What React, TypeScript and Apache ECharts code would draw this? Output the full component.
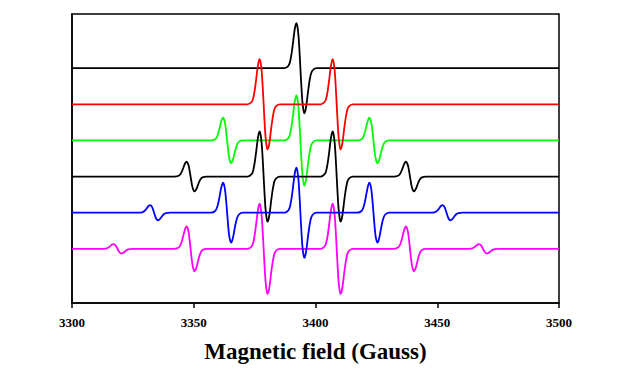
import React, { useEffect, useRef } from "react";
import * as echarts from "echarts";

// Tick labels of the field axis
const X_TICKS = [3300, 3350, 3400, 3450, 3500];

// Spectrum names, colours, baselines (stack offsets)
const SPECTRA = ["n1", "n2", "n3", "n4", "n5", "n6"];
const COLORS = ["#000000", "#ff0000", "#00ff00", "#000000", "#0000ff", "#ff00ff"];
const BASELINES = [6.5, 5.5, 4.5, 3.5, 2.5, 1.5];

// Line centres (Gauss)
const CENTERS_1 = [3393.8];
const CENTERS_2 = [3378.7, 3408.7];
const CENTERS_3 = [3363.7, 3393.8, 3423.8];
const CENTERS_4 = [3348.7, 3378.7, 3408.7, 3438.8];
const CENTERS_5 = [3333.7, 3363.7, 3393.8, 3423.8, 3453.8];
const CENTERS_6 = [3318.7, 3348.7, 3378.7, 3408.7, 3438.8, 3468.8];

// Peak amplitudes of each line (axis units)
const AMPS_1 = [1.25];
const AMPS_2 = [1.25, 1.25];
const AMPS_3 = [0.63, 1.25, 0.63];
const AMPS_4 = [0.41, 1.25, 1.25, 0.41];
const AMPS_5 = [0.21, 0.83, 1.25, 0.83, 0.21];
const AMPS_6 = [0.13, 0.62, 1.25, 1.25, 0.62, 0.13];

// First-derivative line profile (offset in G, relative height)
const PROFILE_DX = [-6.6, -4.9, -4.1, -3.3, -2.5, -2.05, -1.65, -1.25, -0.8, -0.4, 0, 0.4, 0.8, 1.25, 1.65, 2.05, 2.5, 3.3, 4.1, 4.9, 6.6];
const PROFILE_DY = [0, 0.055, 0.18, 0.45, 0.8, 0.94, 1, 0.93, 0.73, 0.4, 0, -0.4, -0.73, -0.93, -1, -0.94, -0.8, -0.45, -0.18, -0.055, 0];

const CENTERS = [CENTERS_1, CENTERS_2, CENTERS_3, CENTERS_4, CENTERS_5, CENTERS_6];
const AMPS = [AMPS_1, AMPS_2, AMPS_3, AMPS_4, AMPS_5, AMPS_6];

function buildSeriesData(idx: number): number[][] {
  const base = BASELINES[idx];
  const pts: number[][] = [[X_TICKS[0], base]];
  CENTERS[idx].forEach((c, j) => {
    const a = AMPS[idx][j];
    PROFILE_DX.forEach((dx, k) => {
      pts.push([c + dx, base + a * PROFILE_DY[k]]);
    });
  });
  pts.push([X_TICKS[X_TICKS.length - 1], base]);
  return pts;
}

const FONT = "'Liberation Serif', 'Times New Roman', serif";
const Z_ORDER = [1, 5, 2, 3, 6, 4];

export default function App() {
  const ref = useRef<HTMLDivElement>(null);
  useEffect(() => {
    if (!ref.current) return;
    const chart = echarts.init(ref.current, undefined, { renderer: "svg" });
    chart.setOption({
      animation: false,
      backgroundColor: "#ffffff",
      grid: {
        left: 64,
        right: 73,
        top: 6,
        bottom: 67,
        show: true,
        borderColor: "#000",
        borderWidth: 1.5,
        outerBoundsMode: "none",
        containLabel: false,
      },
      xAxis: {
        type: "value",
        min: 3300,
        max: 3500,
        interval: 50,
        name: "Magnetic field (Gauss)",
        nameLocation: "middle",
        nameGap: 37,
        nameTextStyle: { fontFamily: FONT, fontWeight: "bold", fontSize: 23, color: "#000" },
        axisLine: { show: true, lineStyle: { color: "#000", width: 1.5 } },
        axisTick: { show: true, inside: false, length: 5, lineStyle: { color: "#000", width: 1.5 } },
        axisLabel: {
          fontFamily: FONT,
          fontWeight: "bold",
          fontSize: 13,
          color: "#000",
          margin: 13,
          formatter: (v: number) => String(v),
        },
        splitLine: { show: false },
      },
      yAxis: {
        type: "value",
        min: 0,
        max: 8,
        axisLine: { show: true, lineStyle: { color: "#000", width: 1.5 } },
        axisTick: { show: false },
        axisLabel: { show: false },
        splitLine: { show: false },
      },
      series: SPECTRA.map((name, i) => ({
        name,
        type: "line",
        data: buildSeriesData(i),
        smooth: 0.4,
        showSymbol: false,
        symbol: "none",
        z: Z_ORDER[i],
        lineStyle: { color: COLORS[i], width: 1.8 },
      })),
    });
    return () => chart.dispose();
  }, []);
  return <div ref={ref} style={{ width: 624, height: 362 }} />;
}
